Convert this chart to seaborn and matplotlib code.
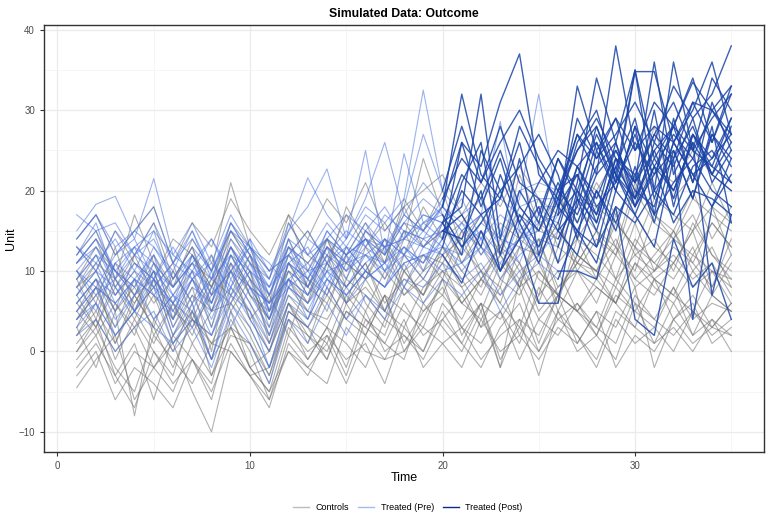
import pandas as pd
import seaborn as sns
import matplotlib.pyplot as plt
from matplotlib.lines import Line2D
from matplotlib.ticker import MultipleLocator

# time axis shared by every unit
time = list(range(1, 36))

# control units (never treated)
controls = [
    [-4.5, -1, 2, -6, -2, 1, -5, -10, 0, -3, -7, 1, -2, -4, 3, 0, -1, 4, -2, 1, 3, -1, 2, 4, -3, 5, 0, 2, -1, 6, 1, 3, 0, 4, 2],
    [3, -2, 5, -8, 4, 0, 6, -3, 2, 1, -4, 5, 3, -1, 6, 2, 7, 1, 5, 8, 3, 6, -2, 9, 4, 7, 5, 2, 8, 5, 9, 4, 7, 3, 6],
    [9, 4, 11, 7, 3, 10, 6, 12, 5, 9, 2, 11, 7, 13, 6, 10, 14, 8, 12, 9, 15, 10, 13, 8, 16, 11, 14, 9, 17, 12, 10, 15, 11, 16, 13],
    [5, 9, 1, 6, 10, 3, 8, 0, 11, 4, 7, 2, 9, 5, 12, 6, 3, 10, 7, 13, 9, 5, 11, 8, 14, 7, 12, 10, 6, 13, 9, 11, 15, 8, 12],
    [12, 15, 9, 17, 11, 8, 14, 10, 21, 13, 6, 16, 12, 10, 18, 14, 11, 19, 15, 20, 13, 17, 12, 22, 16, 14, 19, 18, 13, 21, 17, 15, 20, 14, 18],
    [2, 6, -1, 4, 0, -3, 5, 1, 3, -2, 0, 6, 2, -1, 5, 3, 7, 0, 4, 9, 2, 6, 4, 8, 1, 7, 5, 3, 9, 6, 4, 8, 2, 7, 5],
    [7, 3, 9, 5, 11, 6, 2, 8, 13, 7, 4, 10, 6, 14, 8, 11, 5, 12, 9, 7, 13, 10, 8, 15, 11, 6, 14, 12, 9, 16, 10, 13, 11, 8, 14],
    [0, 4, -3, 1, -6, 2, -1, -4, 5, -2, -5, 3, 0, 2, -3, 4, 1, -1, 6, 3, 0, 5, -2, 4, 2, 7, 1, 5, 3, 8, -2, 4, 6, 1, 3],
    [8, 10, 5, 12, 7, 4, 9, 6, 14, 10, 3, 11, 8, 12, 6, 13, 9, 15, 10, 12, 14, 9, 13, 11, 7, 15, 12, 10, 16, 13, 11, 14, 17, 12, 10],
    [-2, 1, -3, -7, 0, -4, -1, -6, 3, -2, -5, 0, -3, 2, -1, 1, -4, 3, 0, 5, 1, -2, 3, 6, 0, 4, 2, -1, 5, 3, 1, 6, 2, 4, 0],
    [11, 14, 8, 12, 16, 9, 13, 7, 15, 11, 9, 17, 10, 14, 12, 16, 11, 18, 13, 15, 17, 12, 16, 14, 19, 13, 18, 15, 12, 20, 16, 14, 19, 17, 15],
    [4, 7, 3, 9, 2, 6, 1, 5, 10, 4, 0, 8, 5, 3, 9, 7, 4, 11, 6, 10, 8, 3, 9, 7, 12, 5, 10, 8, 6, 11, 9, 7, 12, 10, 8],
    [-1, 2, -4, 0, -2, -5, 1, -3, 4, 0, -6, 2, -1, 3, -2, 5, 0, 2, -1, 4, 1, 6, -1, 3, 0, 5, 2, -2, 4, 1, 3, 0, 5, 2, 4],
    [10, 6, 13, 5, 8, 11, 4, 9, 7, 12, 5, 14, 8, 6, 11, 9, 13, 7, 10, 16, 11, 8, 14, 10, 6, 13, 11, 15, 9, 12, 14, 10, 16, 12, 9],
    [6, 3, 8, 4, 9, 2, 7, 5, 6, 10, 1, 7, 4, 9, 6, 8, 5, 10, 7, 11, 6, 9, 12, 8, 10, 7, 11, 9, 13, 8, 10, 12, 9, 11, 7],
    [3, 8, 2, 5, 1, 6, 4, -1, 7, 3, -2, 6, 1, 8, 4, 2, 7, 5, 3, 9, 6, 4, 8, 2, 7, 10, 5, 8, 6, 3, 9, 7, 5, 10, 6],
    [13, 10, 15, 11, 9, 14, 12, 8, 16, 13, 10, 12, 15, 11, 17, 13, 16, 12, 18, 14, 16, 19, 13, 17, 15, 20, 14, 18, 16, 13, 19, 17, 15, 21, 16],
    [1, 4, 0, 3, -2, 2, 5, -1, 3, 1, -3, 4, 2, 0, 5, 3, 1, 6, 2, 4, 7, 3, 5, 1, 8, 4, 6, 2, 7, 5, 3, 8, 4, 6, 5],
    [-3, 0, -6, -2, -4, -7, -1, -5, 1, -3, -6, 0, -2, 1, -4, 2, -1, 0, 3, 1, -2, 4, 0, 2, -1, 3, 1, 5, -2, 2, 0, 4, 1, 3, 2],
    [8, 12, 7, 10, 6, 9, 13, 5, 11, 8, 4, 12, 9, 7, 13, 10, 8, 14, 24, 17, 11, 15, 9, 13, 12, 16, 10, 14, 12, 17, 13, 11, 15, 18, 12],
    [9, 13, 10, 7, 12, 8, 11, 9, 15, 12, 7, 13, 11, 14, 9, 15, 12, 16, 13, 15, 14, 17, 12, 18, 15, 19, 16, 21, 17, 20, 28, 19, 22, 18, 16],
    [5, 2, 6, 3, 7, 1, 4, 2, 8, 5, 0, 6, 3, 7, 4, 9, 5, 3, 8, 10, 6, 9, 7, 11, 5, 8, 10, 6, 12, 9, 7, 11, 8, 10, 9],
    [14, 17, 12, 15, 18, 11, 16, 13, 19, 15, 12, 17, 14, 19, 16, 21, 15, 18, 20, 22, 17, 21, 18, 23, 19, 17, 22, 20, 24, 19, 23, 21, 25, 22, 20],
    [4, 8, 6, 2, 9, 5, 3, 7, 10, 6, 1, 9, 5, 4, 8, 11, 6, 9, 7, 12, 8, 10, 6, 13, 9, 7, 12, 10, 8, 14, 11, 9, 13, 7, 11],
    [0, 3, -2, -5, 2, -1, -4, 1, 0, -3, -2, 4, -1, 3, 1, -2, 4, 2, 0, 6, 3, 1, 5, -1, 4, 2, 6, 3, 1, 7, 4, 2, 5, 3, 6],
    [7, 11, 9, 6, 10, 4, 12, 8, 13, 9, 6, 10, 8, 13, 11, 9, 14, 10, 12, 11, 15, 13, 10, 14, 12, 16, 11, 15, 13, 10, 17, 14, 12, 16, 13],
    [2, 5, 1, 7, 3, -2, 4, 1, 6, 2, -3, 5, 3, 1, 7, 4, 2, 8, 5, 7, 4, 9, 6, 3, 10, 7, 5, 9, 6, 11, 8, 6, 10, 7, 5],
    [6, 9, 5, 8, 4, 7, 10, 3, 12, 7, 5, 9, 6, 11, 8, 5, 10, 7, 9, 13, 10, 7, 12, 9, 14, 8, 11, 10, 14, 9, 12, 15, 10, 13, 8],
]

# treated units: outcome over all 35 periods
treated = [
    [12, 16, 9, 13, 15, 8, 11, 14, 10, 13, 7, 12, 15, 11, 14, 25, 12, 17, 15, 18, 32, 22, 19, 26, 17, 24, 20, 27, 22, 19, 25, 28, 21, 27, 24],
    [7, 10, 5, 9, 12, 4, 8, 6, 11, 7, 3, 10, 8, 12, 9, 14, 10, 13, 11, 16, 18, 32, 14, 24, 12, 20, 17, 23, 26, 18, 22, 25, 19, 27, 23],
    [5, 8, 3, 7, 9, 2, 6, -1, 8, 4, 0, 7, 5, 10, 6, 9, 11, 8, 13, 12, 8.5, 15, 10, 14, 6, 6, 19, 13, 18, 16, 20, 17, 23, 25, 21],
    [15, 18.3, 19.3, 14, 21.5, 12, 16, 11, 17, 13, 10, 15, 18, 22.7, 14, 19, 26, 17, 21, 18, 26, 23, 31, 37, 22, 19, 27, 24, 29, 25, 28, 26, 31, 30, 33],
    [10, 13, 8, 11, 9, 6, 12, 7, 10, 14, 5, 11, 9, 13, 10, 15, 13, 14, 17, 16, 22, 19, 25, 18, 15, 21, 16, 22, 25, 20, 18, 26, 22, 24, 27],
    [3, 6, 2, 5, 8, 1, 4, 2, 7, 5, -2, 6, 4, 9, 7, 10, 8, 11, 12, 13, 21, 26, 12, 20, 16, 24, 19, 28, 22, 18, 26, 23, 29, 21, 25],
    [9, 12, 10, 7, 11, 5, 10, 8, 13, 9, 4, 11, 7, 12, 10, 13, 11, 15, 14, 15, 17, 13, 22, 16, 11, 18, 15, 20, 16, 22, 17, 21, 24, 20, 18],
    [14, 17, 12, 15, 13, 10, 15, 9, 16, 12, 8, 14, 12, 16, 13, 17, 15, 18, 27, 20, 28, 21, 26, 30, 24, 20, 25, 29, 24, 22, 27, 31, 25, 29, 32],
    [6, 9, 7, 11, 8, 4, 9, 3, 10, 6, 2, 8, 6, 10, 11, 12, 9, 13, 11, 15, 14, 20, 10, 17, 13, 19, 15, 13, 22, 17, 23, 16, 20, 19, 17],
    [11, 14, 10, 8, 13, 9, 12, 6, 13, 10, 7, 14, 9, 15, 12, 14, 13, 16, 15, 19, 24, 21, 28, 21, 19, 15, 23, 26, 21, 27, 20, 24, 28, 22, 26],
    [8, 5, 11, 9, 7, 10, 6, 9, 12, 8, 6, 9, 11, 8, 13, 10, 14, 12, 16, 14, 20, 17, 19, 28, 23, 18, 22, 16, 24, 21, 25, 19, 27, 22, 20],
    [13, 10, 15, 12, 16, 11, 14, 10, 15, 13, 9, 16, 12, 14, 17, 15, 18, 14, 17, 16, 12, 25, 20, 23, 27, 22, 14, 25, 20, 28, 23, 27, 24, 30, 26],
    [4, 7, 9, 5, 10, 7, 3, 8, 6, 11, 5, 8, 10, 7, 12, 9, 11, 13, 10, 14, 26, 18, 24, 16, 21, 25, 23, 18, 21, 26, 22, 28, 25, 23, 29],
    [10, 8, 12, 14, 9, 13, 9, 11, 8, 14, 10, 12, 8, 13, 11, 14, 12, 16, 19, 17, 13, 16, 20, 14, 18, 11, 20, 17, 23, 19, 24, 20, 26, 22, 28],
    [9, 12, 7, 10, 8, 6, 10, 5, 12, 8, 4, 11, 9, 13, 10, 12, 11, 14, 13, 16, 13, 15, 12, 14, 16, 17, 33, 25, 29, 21, 27, 24, 31, 26, 33],
    [6, 9, 4, 7, 10, 3, 7, 2, 9, 5, 1, 8, 6, 9, 7, 10, 8, 11, 12, 10, 11, 13, 9, 12, 14, 13, 21, 34, 26, 35, 24, 28, 33.5, 30, 27],
    [14, 17, 13, 15, 18, 11, 15, 10, 16, 12, 9, 15, 21.6, 17, 14, 18, 16, 19, 32.5, 20, 17, 19, 15, 20, 21, 20, 27, 22, 38, 25, 31, 28, 34, 26, 32],
    [4, 6, 2, 5, 3, 1, 5, -1, 6, 3, -2, 5, 3, 8, 4, 7, 5, 9, 8, 11, 9, 11, 7, 10, 12, 10, 10, 9, 18, 4, 2, 14, 8, 11, 4],
    [11, 13, 9, 12, 10, 8, 11, 7, 13, 9, 6, 12, 10, 11, 13, 12, 14, 12, 15, 13, 12, 16, 14, 13, 17, 16, 23, 19, 25, 21, 36, 22, 27, 24, 29],
    [17, 15, 16, 12, 14, 9, 13, 10, 15, 11, 8, 13, 11, 14, 12, 16, 13, 17, 15, 18, 15, 17, 14, 19, 32, 18, 26, 30, 22, 35, 20, 36, 25, 34, 30],
    [2, 4, 0, 3, 5, 0, 3, -2, 5, 1, -4, 4, 1, 6, 2, 7, 4, 8, 6, 9, 7, 10, 5, 9, 11, 9, 15, 11, 20, 17, 13, 24, 4, 18, 22],
    [12, 15, 10, 13, 11, 8, 12, 9, 14, 11, 7, 13, 10, 15, 12, 14, 12, 24.6, 16, 18, 15, 17, 13, 18, 19, 19, 25, 28, 21, 34.8, 34.8, 26, 30, 36, 27],
    [8, 11, 6, 9, 7, 5, 9, 4, 10, 8, 2, 9, 7, 11, 8, 12, 10, 12, 11, 14, 10, 13, 11, 14, 15, 14, 19, 16, 24, 18, 23, 20, 26, 7, 17],
    [11, 14, 10, 8, 12, 7, 11, 6, 12, 10, 5, 13, 8, 14, 11, 15, 13, 14, 16, 17, 13, 17, 28.6, 15, 18, 18, 29, 24, 27, 31, 26, 33, 29, 32, 38],
    [7, 10, 8, 5, 9, 6, 9, 5, 8, 12, 4, 9, 7, 10, 8, 11, 13, 10, 14, 12, 16, 12, 15, 11, 17, 15, 18, 26, 20, 28, 17, 29, 21, 31, 25],
    [13, 11, 14, 10, 15, 12, 10, 14, 9, 13, 11, 8, 14, 12, 15, 13, 17, 15, 14, 18, 16, 14, 19, 17, 15, 20, 22, 17, 26, 19, 30, 18, 27, 23, 21],
    [5, 8, 6, 9, 4, 7, 5, 10, 3, 8, 6, 9, 4, 11, 7, 10, 8, 12, 9, 13, 11, 14, 10, 16, 12, 15, 12, 20, 15, 23, 16, 25, 19, 28, 16],
    [10, 7, 11, 13, 8, 11, 9, 12, 7, 10, 8, 11, 13, 9, 12, 14, 10, 15, 13, 16, 19, 14, 17, 15, 13, 17, 20, 15, 23, 29, 19, 26, 22, 18, 24],
]
# period in which each treated unit adopts
adoption = [20] * 14 + [26] * 14

labels = ['Controls', 'Treated (Pre)', 'Treated (Post)']
colors = {'Controls': '#707070', 'Treated (Pre)': '#4a74e0', 'Treated (Post)': '#1a44a8'}
alphas = {'Controls': 0.55, 'Treated (Pre)': 0.55, 'Treated (Post)': 0.85}
widths = {'Controls': 0.8, 'Treated (Pre)': 0.8, 'Treated (Post)': 1.0}
legend_colors = {'Controls': '#bcbcbc', 'Treated (Pre)': '#a3bbef', 'Treated (Post)': '#0d2b85'}

rows = []
for i, vals in enumerate(controls):
    assert len(vals) == 35, ('control', i, len(vals))
    for t, v in zip(time, vals):
        rows.append(('c%d' % i, t, v, 'Controls'))
for i, (vals, a) in enumerate(zip(treated, adoption)):
    assert len(vals) == 35, ('treated', i, len(vals))
    for t, v in zip(time, vals):
        if t <= a:
            rows.append(('p%d' % i, t, v, 'Treated (Pre)'))
        if t >= a:
            rows.append(('q%d' % i, t, v, 'Treated (Post)'))
df = pd.DataFrame(rows, columns=['unit', 'time', 'value', 'group'])

plt.rcParams['font.family'] = ['Liberation Sans', 'DejaVu Sans']

fig = plt.figure(figsize=(7.68, 5.14), dpi=100)
ax = fig.add_axes([0.0573, 0.1206, 0.9375, 0.8308])

for g in labels:
    sns.lineplot(data=df[df['group'] == g], x='time', y='value', units='unit',
                 estimator=None, color=colors[g], alpha=alphas[g],
                 linewidth=widths[g], ax=ax, legend=False)

ax.set_xlim(-0.7, 36.7)
ax.set_ylim(-12.5, 40.6)
ax.xaxis.set_major_locator(MultipleLocator(10))
ax.xaxis.set_minor_locator(MultipleLocator(5))
ax.yaxis.set_major_locator(MultipleLocator(10))
ax.yaxis.set_minor_locator(MultipleLocator(5))
ax.set_axisbelow(True)
ax.grid(which='major', color='#ebebeb', linewidth=0.9)
ax.grid(which='minor', color='#f3f3f3', linewidth=0.5)
for s in ax.spines.values():
    s.set_color('#333333')
    s.set_linewidth(1.0)
ax.tick_params(which='major', length=3, width=0.8, color='#333333',
               labelsize=7, labelcolor='#4d4d4d')
ax.tick_params(which='minor', length=0)

ax.set_xlabel('Time', fontsize=9, labelpad=1)
ax.set_ylabel('Unit', fontsize=9, labelpad=1)
ax.set_title('Simulated Data: Outcome', fontsize=8.8, fontweight='bold', pad=6)

handles = [Line2D([0], [0], color=legend_colors[g], linewidth=1.0) for g in labels]
fig.legend(handles, labels, loc='center', bbox_to_anchor=(0.531, 0.012), ncol=3,
           frameon=False, fontsize=6.5, handlelength=1.8, columnspacing=1.0,
           handletextpad=0.7)

plt.savefig('out.png', dpi=100)
